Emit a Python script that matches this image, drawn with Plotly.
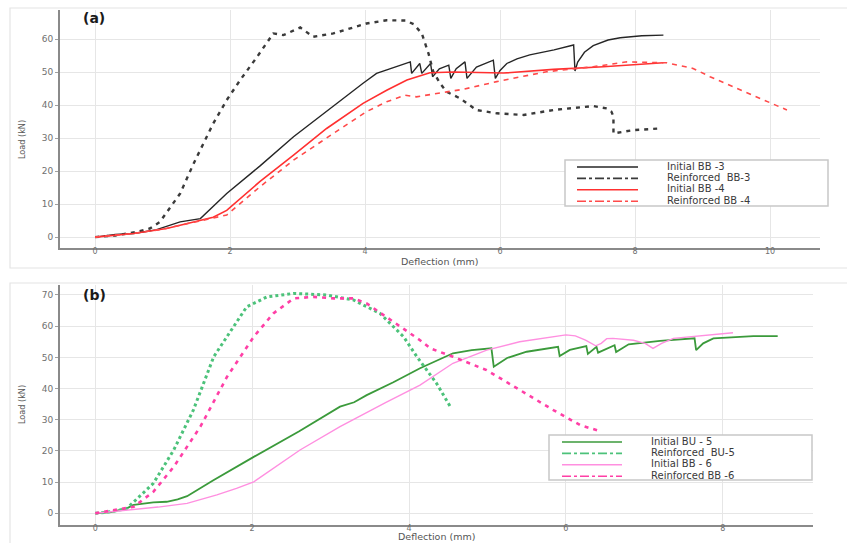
import plotly.graph_objects as go

W, H = 847, 543

# ---------------- panel (a): BB-3 / BB-4 ----------------
bb3_init_x = [0, 0.3, 0.57, 0.9, 1.26, 1.56, 1.95, 2.44, 2.94, 3.45, 3.97, 4.17, 4.32, 4.67,
              4.69, 4.81, 4.84, 4.97, 5.0, 5.1, 5.24, 5.27, 5.35, 5.48, 5.51, 5.65, 5.9, 5.93,
              6.0, 6.1, 6.25, 6.44, 6.8, 7.09, 7.11, 7.15, 7.25, 7.38, 7.6, 7.78, 8.1, 8.42]
bb3_init_y = [0, 0.8, 1.1, 2.2, 4.6, 5.6, 13.2, 21.5, 30.4, 38.5, 46.6, 49.6, 50.6, 53.1,
              49.6, 52.6, 49.6, 52.6, 48.6, 51.0, 52.1, 48.1, 51.0, 53.1, 48.1, 51.5, 53.6, 48.1,
              50.5, 52.6, 54.0, 55.2, 56.7, 58.2, 50.3, 53.0, 56.0, 58.0, 59.7, 60.4, 61.0, 61.2]

bb3_reinf_x = [0, 0.3, 0.6, 0.81, 0.96, 1.1, 1.26, 1.46, 1.6, 1.75, 1.95, 2.15, 2.4, 2.64, 2.79,
               3.04, 3.23, 3.53, 4.02, 4.32, 4.6, 4.72, 4.84, 4.94, 5.01, 5.11, 5.21, 5.41, 5.65,
               5.95, 6.35, 6.79, 7.38, 7.58, 7.65, 7.68, 7.68, 7.68, 7.97, 8.37]
bb3_reinf_y = [0, 0.5, 1.5, 2.6, 4.6, 8.5, 13.2, 22.3, 28.0, 34.4, 41.5, 47.6, 54.6, 61.7, 61.2,
               63.5, 60.7, 61.7, 64.7, 65.7, 65.6, 64.5, 61.7, 55.6, 50.1, 46.6, 44.0, 42.0, 38.5,
               37.5, 37.0, 38.5, 39.7, 39.0, 38.0, 36.5, 34.0, 31.4, 32.4, 32.9]

bb4_init_x = [0, 0.3, 0.57, 1.06, 1.3, 1.56, 1.75, 1.95, 2.44, 2.94, 3.43, 3.97, 4.32, 4.62,
              4.96, 5.31, 5.8, 6.05, 6.79, 7.53, 8.42]
bb4_init_y = [0, 0.6, 1.1, 2.6, 3.8, 5.1, 6.0, 8.1, 16.8, 24.8, 32.9, 40.5, 44.5, 47.6,
              49.8, 50.0, 49.7, 49.7, 50.8, 51.6, 52.8]

bb4_reinf_x = [0, 0.3, 0.6, 1.0, 1.3, 1.56, 1.95, 2.44, 2.94, 3.53, 4.02, 4.32, 4.59, 4.76,
               4.93, 5.21, 5.46, 5.95, 6.44, 6.69, 7.38, 7.88, 8.47, 8.86, 9.11, 9.51, 9.9, 10.25]
bb4_reinf_y = [0, 0.5, 1.2, 2.4, 3.8, 5.1, 6.7, 15.2, 23.3, 31.4, 38.0, 41.0, 43.0, 42.5,
               43.0, 44.0, 44.8, 47.1, 49.1, 50.1, 51.6, 53.1, 52.8, 51.1, 48.6, 45.1, 41.5, 38.5]

# ---------------- panel (b): BU-5 / BB-6 ----------------
bu5_init_x = [0, 0.2, 0.4, 0.49, 0.74, 0.91, 1.05, 1.17, 1.5, 2.02, 2.6, 3.12, 3.3, 3.46, 3.8,
              4.14, 4.56, 4.8, 5.05, 5.08, 5.25, 5.5, 5.9, 5.92, 6.05, 6.26, 6.28, 6.39, 6.41,
              6.62, 6.64, 6.8, 7.2, 7.64, 7.66, 7.75, 7.88, 8.39, 8.7]
bu5_init_y = [0, 0.4, 1.6, 2.7, 3.5, 3.7, 4.5, 5.5, 10.5, 18.1, 26.3, 34.2, 35.6, 37.9, 42.0,
              46.5, 51.3, 52.3, 52.9, 47.0, 49.8, 51.8, 53.4, 50.4, 52.4, 53.6, 51.1, 53.4, 51.5,
              53.9, 51.7, 54.2, 55.3, 56.1, 52.3, 54.5, 56.1, 56.8, 56.8]

bu5_reinf_x = [0, 0.2, 0.4, 0.49, 0.74, 1.0, 1.25, 1.51, 1.68, 1.93, 2.19, 2.53, 2.95, 3.29,
               3.63, 3.93, 4.1, 4.27, 4.35, 4.54]
bu5_reinf_y = [0, 0.5, 1.5, 3.7, 9.6, 20.3, 33.1, 50.2, 56.6, 66.2, 69.4, 70.5, 70.0, 68.4,
               64.1, 56.6, 50.2, 44.5, 41.7, 33.6]

bb6_init_x = [0, 0.49, 0.8, 1.17, 1.34, 1.55, 1.8, 2.02, 2.61, 3.12, 3.7, 4.14, 4.56, 4.99,
              5.41, 5.92, 6.0, 6.12, 6.25, 6.38, 6.45, 6.52, 6.6, 6.86, 7.01, 7.11, 7.22, 7.37, 8.13]
bb6_init_y = [0, 1.1, 2.0, 3.2, 4.3, 5.9, 8.0, 10.1, 20.3, 27.8, 35.5, 41.1, 48.1, 52.3,
              55.0, 57.1, 57.2, 56.9, 55.5, 53.7, 54.5, 56.0, 56.1, 55.5, 54.5, 52.9, 54.5, 56.1, 57.9]

bb6_reinf_x = [0, 0.49, 0.74, 1.0, 1.34, 1.68, 2.02, 2.27, 2.53, 2.78, 3.04, 3.29, 3.46, 3.89,
               4.14, 4.27, 4.56, 4.99, 5.41, 5.84, 6.18, 6.45]
bb6_reinf_y = [0, 2.1, 6.9, 14.9, 27.8, 43.8, 56.6, 64.1, 68.9, 69.4, 68.9, 68.9, 67.3, 59.8,
               55.5, 52.9, 50.2, 45.9, 39.5, 33.1, 28.3, 26.2]

x_ticks_a = [0, 2, 4, 6, 8, 10]
y_ticks_a = [0, 10, 20, 30, 40, 50, 60]
x_ticks_b = [0, 2, 4, 6, 8]
y_ticks_b = [0, 10, 20, 30, 40, 50, 60, 70]

names_a = ["Initial BB -3", "Reinforced&nbsp; BB-3", "Initial BB -4", "Reinforced BB -4"]
names_b = ["Initial BU - 5", "Reinforced&nbsp; BU-5", "Initial BB - 6", "Reinforced BB -6"]

# colours / line styles
C_BLACK = "#262626"
C_GREY = "#3a3a3a"
C_RED = "#ff3030"
C_RED_D = "#ff4a4a"
C_GREEN = "#3b9a3b"
C_GREEN_D = "#4cc27a"
C_PINK = "#ff8fe0"
C_PINK_D = "#ff3fa6"

styles_a = [
    dict(color=C_BLACK, width=1.4),
    dict(color=C_GREY, width=2.4, dash="4px,5px"),
    dict(color=C_RED, width=1.6),
    dict(color=C_RED_D, width=1.6, dash="5px,5px"),
]
styles_b = [
    dict(color=C_GREEN, width=1.8),
    dict(color=C_GREEN_D, width=3.0, dash="3px,3px"),
    dict(color=C_PINK, width=1.4),
    dict(color=C_PINK_D, width=2.6, dash="4px,5px"),
]

fig = go.Figure()

data_a = [(bb3_init_x, bb3_init_y), (bb3_reinf_x, bb3_reinf_y),
          (bb4_init_x, bb4_init_y), (bb4_reinf_x, bb4_reinf_y)]
data_b = [(bu5_init_x, bu5_init_y), (bu5_reinf_x, bu5_reinf_y),
          (bb6_init_x, bb6_init_y), (bb6_reinf_x, bb6_reinf_y)]

for (xs, ys), nm, st in zip(data_a, names_a, styles_a):
    fig.add_trace(go.Scatter(x=xs, y=ys, mode="lines", name=nm, line=st,
                             showlegend=False, xaxis="x", yaxis="y"))
for (xs, ys), nm, st in zip(data_b, names_b, styles_b):
    fig.add_trace(go.Scatter(x=xs, y=ys, mode="lines", name=nm, line=st,
                             showlegend=False, xaxis="x2", yaxis="y2"))


def px_x(p):
    return p / W


def px_y(p):
    return 1 - p / H


grid = dict(showgrid=True, gridcolor="#e6e6e6", gridwidth=1, zeroline=False,
            showline=True, linecolor="#8a8a8a", linewidth=2)
x_common = dict(ticks="", tickfont=dict(family="DejaVu Sans", size=8, color="#707070"),
                ticklabelstandoff=-6, **grid)
y_common = dict(ticks="outside", ticklen=3, tickcolor="#a0a0a0",
                tickfont=dict(family="DejaVu Sans", size=9, color="#707070"), **grid)

fig.update_layout(
    width=W, height=H,
    margin=dict(l=0, r=0, t=0, b=0),
    paper_bgcolor="white", plot_bgcolor="white",
    xaxis=dict(domain=[px_x(60), px_x(820)], range=[-0.52, 10.74], tickvals=x_ticks_a,
               anchor="y", **x_common),
    yaxis=dict(domain=[px_y(248), px_y(10)], range=[-3.3, 68.8], tickvals=y_ticks_a,
               anchor="x", **y_common),
    xaxis2=dict(domain=[px_x(60), px_x(813)], range=[-0.45, 9.15], tickvals=x_ticks_b,
                anchor="y2", **x_common),
    yaxis2=dict(domain=[px_y(525), px_y(285)], range=[-3.75, 73.2], tickvals=y_ticks_b,
                anchor="x2", **y_common),
)

shapes = []
annotations = []

# light panel frames
for top, bottom in [(8, 268), (283, 560)]:
    shapes.append(dict(type="rect", xref="paper", yref="paper",
                       x0=px_x(10), x1=px_x(860), y0=px_y(bottom), y1=px_y(top),
                       line=dict(color="#e4e4e4", width=1.2), layer="below"))

# panel letters
for txt, y in [("(a)", 18), ("(b)", 295)]:
    annotations.append(dict(text=txt, xref="paper", yref="paper", x=px_x(94), y=px_y(y),
                            showarrow=False, xanchor="center", yanchor="middle",
                            font=dict(family="DejaVu Sans", size=14, color="#1a1a1a",
                                      weight="bold")))

# axis titles
for yc in (140, 405):
    annotations.append(dict(text="Load (kN)", xref="paper", yref="paper", x=px_x(22),
                            y=px_y(yc), showarrow=False, textangle=-90,
                            xanchor="center", yanchor="middle",
                            font=dict(family="DejaVu Sans Condensed, DejaVu Sans, sans-serif",
                                      size=9, color="#555")))
for xc, yc, anchor in [(440, 261, "middle"), (436, 543, "bottom")]:
    annotations.append(dict(text="Deflection (mm)", xref="paper", yref="paper", x=px_x(xc),
                            y=px_y(yc), showarrow=False, xanchor="center", yanchor=anchor,
                            borderpad=0,
                            font=dict(family="DejaVu Sans", size=9.5, color="#555")))

# legends
leg_font = dict(family="DejaVu Sans", size=10, color="#3a3a3a")


def add_legend(box, rows, line_x0, line_x1, text_x, names, styles):
    x0, y0, x1, y1 = box
    shapes.append(dict(type="rect", xref="paper", yref="paper",
                       x0=px_x(x0), x1=px_x(x1), y0=px_y(y1), y1=px_y(y0),
                       line=dict(color="#c8c8c8", width=1.5), fillcolor="white"))
    for ry, nm, st in zip(rows, names, styles):
        ln = dict(color=st["color"], width=min(st["width"], 1.6))
        if "dash" in st:
            ln["dash"] = "dashdot"
        shapes.append(dict(type="line", xref="paper", yref="paper",
                           x0=px_x(line_x0), x1=px_x(line_x1), y0=px_y(ry + 1), y1=px_y(ry + 1),
                           line=ln))
        annotations.append(dict(text=nm, xref="paper", yref="paper", x=px_x(text_x),
                                y=px_y(ry), showarrow=False, xanchor="left",
                                yanchor="middle", font=leg_font, borderpad=0))


add_legend((565, 160, 828, 206), [166, 177.4, 188.8, 200.2], 577, 638, 666,
           names_a, styles_a)
add_legend((549, 435, 812, 480), [441, 452.4, 463.8, 475.2], 562, 622, 650,
           names_b, styles_b)

fig.update_layout(shapes=shapes, annotations=annotations)

fig.write_html("out.html")
